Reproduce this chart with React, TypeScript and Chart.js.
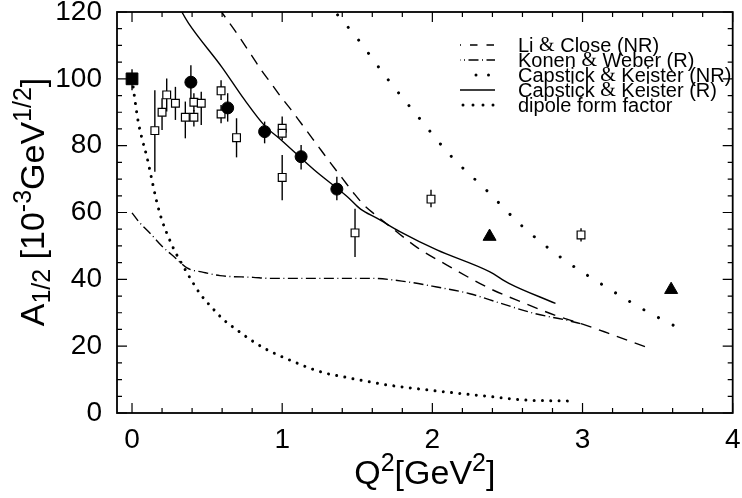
import React, { useEffect, useRef } from 'react';
import { Chart, registerables } from 'chart.js';
Chart.register(...registerables);

// ---------- axis ticks ----------
const xTickValues = [0, 1, 2, 3, 4];
const xTickLabels = ['0', '1', '2', '3', '4'];
const yTickValues = [0, 20, 40, 60, 80, 100, 120];
const yTickLabels = ['0', '20', '40', '60', '80', '100', '120'];

// ---------- data points (Q^2, A_1/2) ----------
const openSqX = [0.152, 0.2, 0.231, 0.289, 0.355, 0.412, 0.412, 0.461, 0.593, 0.593, 0.696, 1.0, 1.0, 1.0, 1.485, 1.991, 2.99];
const openSqY = [84.5, 90.0, 95.2, 92.7, 88.5, 88.5, 93.0, 92.7, 96.4, 89.5, 82.4, 85.2, 83.7, 70.5, 53.9, 64.0, 53.3];
const openSqLo = [72.2, 84.7, 90.2, 87.7, 82.2, 85.7, 90.2, 86.2, 93.7, 86.7, 76.5, 84.0, 81.7, 63.7, 46.7, 61.6, 51.3];
const openSqHi = [96.6, 94.2, 100.1, 97.6, 93.2, 90.7, 95.7, 96.1, 99.6, 92.2, 88.2, 88.7, 84.0, 77.2, 61.1, 66.8, 55.3];

const circX = [0.392, 0.637, 0.883, 1.126, 1.364];
const circY = [99.0, 91.3, 84.2, 76.7, 67.0];
const circLo = [94.2, 87.2, 80.7, 72.9, 63.7];
const circHi = [104.1, 95.7, 87.2, 80.2, 70.7];

const fullSqX = [0];
const fullSqY = [100];
const fullSqLo = [96.6];
const fullSqHi = [102.9];

const triX = [2.381, 3.59];
const triY = [52.8, 36.9];

// ---------- model curves ----------
const liCloseX = [0.58, 0.597, 0.7, 0.795, 0.861, 0.927, 0.993, 1.06, 1.126, 1.192, 1.258, 1.324, 1.401, 1.478, 1.545, 1.632, 1.73, 1.9, 2.1, 2.38, 2.6, 2.82, 3.0, 3.17, 3.42];
const liCloseY = [121.2, 120, 113.5, 107.1, 102.6, 98.6, 94.5, 90.7, 86.7, 82.7, 78.7, 74.7, 70.2, 65.7, 62.2, 58.9, 55.4, 49.5, 44.2, 37.3, 33.1, 29.2, 26.6, 23.9, 19.8];

const konenX = [0, 0.046, 0.124, 0.2, 0.289, 0.366, 0.476, 0.586, 0.806, 0.917, 1.467, 1.588, 1.81, 2.03, 2.25, 2.45, 2.67, 2.89, 3.0];
const konenY = [59.9, 57.2, 53.6, 49.9, 46.4, 43.4, 42.1, 41.1, 40.6, 40.3, 40.3, 40.3, 39.4, 37.7, 35.7, 32.9, 29.9, 27.8, 26.6];

const ckNRX = [1.3, 1.357, 1.5, 1.699, 1.908, 2.124, 2.364, 2.596, 2.86, 3.139, 3.424, 3.62];
const ckNRY = [123, 119.8, 112.1, 100.1, 88.5, 76.9, 66.5, 56.0, 46.4, 38.2, 30.5, 25.9];

const ckRX = [0.31, 0.332, 0.377, 0.597, 0.75, 0.883, 0.993, 1.214, 1.434, 1.522, 1.63, 1.787, 2.03, 2.38, 2.51, 2.82];
const ckRY = [122, 120, 116.6, 103.6, 93.7, 86.0, 81.7, 72.7, 64.7, 61.0, 58.3, 54.2, 48.8, 42.3, 38.8, 32.8];

const dipoleX = [0, 0.04, 0.07, 0.1, 0.134, 0.163, 0.2, 0.24, 0.289, 0.344, 0.4, 0.456, 0.531, 0.61, 0.7, 0.79, 0.88, 0.98, 1.09, 1.19, 1.29, 1.4, 1.51, 1.73, 1.95, 2.17, 2.39, 2.61, 2.94];
const dipoleY = [100, 87.5, 81.5, 76.5, 69.4, 63.5, 57.6, 52.9, 48.1, 43.7, 39.4, 35.5, 31.6, 27.9, 24.8, 21.9, 19.4, 17.2, 15.1, 13.3, 11.9, 10.9, 9.9, 8.2, 7.0, 5.9, 4.9, 3.9, 3.6];

const legendNames = ['Li & Close (NR)', 'Konen & Weber (R)', 'Capstick & Keister (NR)', 'Capstick & Keister (R)', 'dipole form factor'];

const FONT = '"Liberation Sans", Arial, Helvetica, sans-serif';
const SERIF = '"Liberation Serif", "Times New Roman", serif';

const pts = (xs: number[], ys: number[]) => xs.map((x, i) => ({ x, y: ys[i] }));

const errorBarPlugin = {
  id: 'errbars',
  beforeDatasetsDraw(chart: any) {
    const { ctx } = chart;
    const xs = chart.scales.x, ys = chart.scales.y;
    ctx.save();
    ctx.strokeStyle = '#000';
    ctx.lineWidth = 1.4;
    const draw = (xv: number[], lo: number[], hi: number[]) => {
      xv.forEach((v, i) => {
        const px = xs.getPixelForValue(v);
        ctx.beginPath();
        ctx.moveTo(px, ys.getPixelForValue(lo[i]));
        ctx.lineTo(px, ys.getPixelForValue(hi[i]));
        ctx.stroke();
      });
    };
    draw(openSqX, openSqLo, openSqHi);
    draw(circX, circLo, circHi);
    draw(fullSqX, fullSqLo, fullSqHi);
    ctx.restore();
  },
};

const frameTicksPlugin = {
  id: 'frameticks',
  afterDraw(chart: any) {
    const { ctx, chartArea } = chart;
    const { left, right, top, bottom } = chartArea;
    const xs = chart.scales.x, ys = chart.scales.y;
    ctx.save();
    ctx.strokeStyle = '#000';
    ctx.lineWidth = 1.2;
    for (let k = 0; k <= 20; k++) {
      const v = k * 0.2;
      const px = xs.getPixelForValue(v);
      const len = k % 5 === 0 ? 10 : 5;
      ctx.beginPath();
      ctx.moveTo(px, bottom); ctx.lineTo(px, bottom - len);
      ctx.moveTo(px, top); ctx.lineTo(px, top + len);
      ctx.stroke();
    }
    for (let k = 0; k <= 24; k++) {
      const v = k * 5;
      const py = ys.getPixelForValue(v);
      const len = k % 4 === 0 ? 10 : 5;
      ctx.beginPath();
      ctx.moveTo(left, py); ctx.lineTo(left + len, py);
      ctx.moveTo(right, py); ctx.lineTo(right - len, py);
      ctx.stroke();
    }
    ctx.lineWidth = 1.8;
    ctx.strokeRect(left, top, right - left, bottom - top);
    ctx.restore();
  },
};

type Part = { t: string; size: number; dy: number; font?: string };
function drawRich(ctx: CanvasRenderingContext2D, parts: Part[], x: number, y: number) {
  const widths = parts.map((p) => {
    ctx.font = `${p.size}px ${p.font || FONT}`;
    return ctx.measureText(p.t).width;
  });
  const total = widths.reduce((a, b) => a + b, 0);
  let cx = x - total / 2;
  parts.forEach((p, i) => {
    ctx.font = `${p.size}px ${p.font || FONT}`;
    ctx.fillText(p.t, cx, y + p.dy);
    cx += widths[i];
  });
}

const titlesPlugin = {
  id: 'titles',
  afterDraw(chart: any) {
    const { ctx, chartArea } = chart;
    const S = 34, s = 25;
    ctx.save();
    ctx.fillStyle = '#000';
    ctx.textBaseline = 'alphabetic';
    ctx.textAlign = 'left';
    // x title
    drawRich(ctx, [
      { t: 'Q', size: S, dy: 0 },
      { t: '2', size: s, dy: -13 },
      { t: '[GeV', size: S, dy: 0 },
      { t: '2', size: s, dy: -13 },
      { t: ']', size: S, dy: 0 },
    ], (chartArea.left + chartArea.right) / 2, 484);
    // y title
    ctx.translate(44, 202);
    ctx.rotate(-Math.PI / 2);
    drawRich(ctx, [
      { t: 'A', size: S, dy: 0 },
      { t: '1/2', size: s, dy: 6 },
      { t: ' [10', size: S, dy: 0 },
      { t: '-3', size: s, dy: -13 },
      { t: 'GeV', size: S, dy: 0 },
      { t: '1/2', size: s, dy: -13 },
      { t: ']', size: S, dy: 0 },
    ], 0, 0);
    ctx.restore();
  },
};

const legendPlugin = {
  id: 'customLegend',
  afterDraw(chart: any) {
    const { ctx } = chart;
    const x0 = 460, x1 = 495, tx = 518, y0 = 45, dyRow = 15;
    ctx.save();
    ctx.strokeStyle = '#000';
    ctx.fillStyle = '#000';
    const row = (i: number) => y0 + i * dyRow;
    const seg = (i: number, dash: number[], off: number, w: number, cap: CanvasLineCap, a = x0, b = x1) => {
      ctx.setLineDash(dash);
      ctx.lineDashOffset = off;
      ctx.lineWidth = w;
      ctx.lineCap = cap;
      ctx.beginPath();
      ctx.moveTo(a, row(i));
      ctx.lineTo(b, row(i));
      ctx.stroke();
    };
    seg(0, [7.5, 9], 6.5, 1.4, 'butt');
    seg(1, [10, 3.5, 1, 3.5], 9.5, 1.4, 'butt');
    seg(2, [0.001, 12.5], 0, 3, 'round', 476, 490);
    seg(3, [], 0, 1.4, 'butt');
    seg(4, [0.001, 10], 0, 3, 'round', 463, 495);
    ctx.setLineDash([]);
    ctx.textBaseline = 'middle';
    ctx.textAlign = 'left';
    legendNames.forEach((name, i) => {
      const pieces = name.split('&');
      let cx = tx;
      pieces.forEach((p, k) => {
        ctx.font = `20px ${FONT}`;
        ctx.fillText(p, cx, row(i) + 1);
        cx += ctx.measureText(p).width;
        if (k < pieces.length - 1) {
          ctx.font = `20px ${SERIF}`;
          ctx.fillText('&', cx, row(i) + 1);
          cx += ctx.measureText('&').width;
        }
      });
    });
    ctx.restore();
  },
};

export default function App() {
  const ref = useRef<HTMLCanvasElement>(null);
  useEffect(() => {
    if (!ref.current) return;
    const lineBase = {
      showLine: true,
      pointRadius: 0,
      borderColor: '#000',
      fill: false,
      cubicInterpolationMode: 'monotone' as const,
    };
    const chart = new Chart(ref.current, {
      type: 'scatter',
      data: {
        datasets: [
          { label: 'full square', data: pts(fullSqX, fullSqY), pointStyle: 'rect', pointRadius: 8.3, backgroundColor: '#000', borderColor: '#000', borderWidth: 1 },
          { label: 'circles', data: pts(circX, circY), pointStyle: 'circle', pointRadius: 6, backgroundColor: '#000', borderColor: '#000', borderWidth: 1 },
          { label: 'open squares', data: pts(openSqX, openSqY), pointStyle: 'rect', pointRadius: 5.5, backgroundColor: '#fff', borderColor: '#000', borderWidth: 1.2 },
          { label: 'triangles', data: pts(triX, triY), pointStyle: 'triangle', pointRadius: 7.5, backgroundColor: '#000', borderColor: '#000', borderWidth: 1 },
          { ...lineBase, label: legendNames[3], data: pts(ckRX, ckRY), borderWidth: 1.4 },
          { ...lineBase, label: legendNames[0], data: pts(liCloseX, liCloseY), borderWidth: 1.4, borderDash: [11, 8] },
          { ...lineBase, label: legendNames[1], data: pts(konenX, konenY), borderWidth: 1.4, borderDash: [10, 3.5, 1, 3.5] },
          { ...lineBase, label: legendNames[2], data: pts(ckNRX, ckNRY), borderWidth: 3, borderDash: [0.001, 16.5], borderCapStyle: 'round' },
          { ...lineBase, label: legendNames[4], data: pts(dipoleX, dipoleY), borderWidth: 3, borderDash: [0.001, 8.3], borderCapStyle: 'round' },
        ] as any,
      },
      options: {
        responsive: false,
        animation: false,
        events: [],
        layout: { padding: { left: 0, right: 4, top: 12, bottom: 0 } },
        plugins: { legend: { display: false }, tooltip: { enabled: false } },
        scales: {
          x: {
            type: 'linear',
            min: -0.1,
            max: 4,
            grid: { display: false },
            border: { display: false },
            afterBuildTicks: (scale: any) => { scale.ticks = xTickValues.map((v) => ({ value: v })); },
            afterFit: (scale: any) => { scale.height = 85; scale.paddingLeft = 0; scale.paddingRight = 0; },
            ticks: {
              color: '#000',
              padding: 2,
              font: { family: FONT, size: 28 },
              maxRotation: 0,
              callback: (v: any) => xTickLabels[xTickValues.indexOf(Number(v))] ?? '',
            },
          },
          y: {
            type: 'linear',
            min: 0,
            max: 120,
            grid: { display: false },
            border: { display: false },
            afterBuildTicks: (scale: any) => { scale.ticks = yTickValues.map((v) => ({ value: v })); },
            afterFit: (scale: any) => { scale.width = 117; scale.paddingTop = 0; scale.paddingBottom = 0; },
            ticks: {
              color: '#000',
              padding: 7,
              font: { family: FONT, size: 28 },
              callback: (v: any) => yTickLabels[yTickValues.indexOf(Number(v))] ?? '',
            },
          },
        },
      },
      plugins: [errorBarPlugin, frameTicksPlugin, titlesPlugin, legendPlugin],
    });
    return () => chart.destroy();
  }, []);
  return (
    <canvas
      ref={ref}
      width={742}
      height={498}
      style={{ position: 'absolute', left: 0, top: 0, width: 742, height: 498, background: '#fff' }}
    />
  );
}
